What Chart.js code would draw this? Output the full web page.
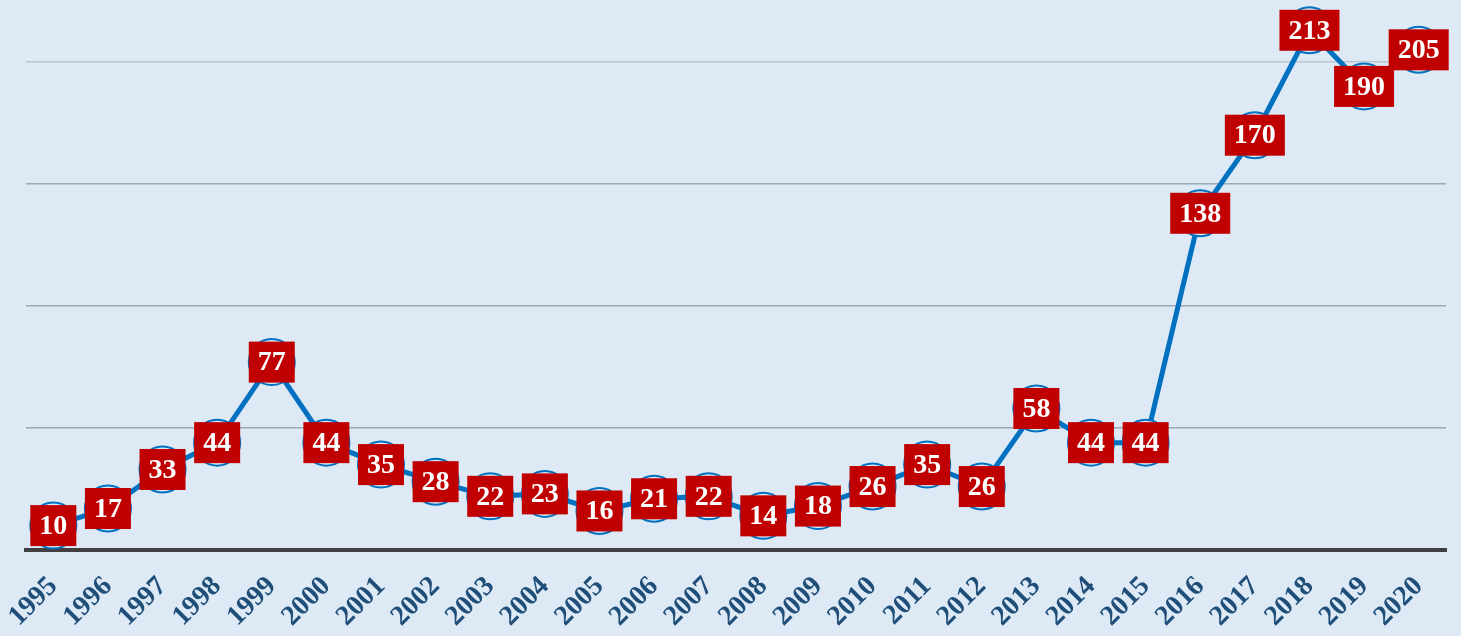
<!DOCTYPE html>
<html>
<head>
<meta charset="utf-8">
<script src="https://cdn.jsdelivr.net/npm/chart.js@4/dist/chart.umd.min.js"></script>
<style>
    html, body { margin: 0; padding: 0; background: #dde9f5; }
    #wrap { width: 1461px; height: 636px; }
</style>
</head>
<body>
<div id="wrap"><canvas id="chart"></canvas></div>
<script>
// Data
const years = ['1995', '1996', '1997', '1998', '1999', '2000', '2001', '2002', '2003', '2004',
    '2005', '2006', '2007', '2008', '2009', '2010', '2011', '2012', '2013', '2014',
    '2015', '2016', '2017', '2018', '2019', '2020'];
const counts = [10, 17, 33, 44, 77, 44, 35, 28, 22, 23, 16, 21, 22, 14, 18, 26, 35, 26, 58, 44,
    44, 138, 170, 213, 190, 205];
const gridValues = [0, 50, 100, 150, 200];

const bg = '#dde9f5';

// Red value boxes on top of each point
const valueBoxes = {
    id: 'valueBoxes',
    afterDatasetsDraw(chart) {
        const ctx = chart.ctx;
        const meta = chart.getDatasetMeta(0);
        ctx.save();
        ctx.font = 'bold 28px "Liberation Serif", "Times New Roman", serif';
        ctx.textAlign = 'center';
        ctx.textBaseline = 'middle';
        meta.data.forEach((pt, i) => {
            const txt = String(counts[i]);
            const w = ctx.measureText(txt).width + 18;
            const h = 41;
            ctx.fillStyle = '#c00000';
            ctx.fillRect(pt.x - w / 2, pt.y - h / 2, w, h);
            ctx.fillStyle = '#ffffff';
            ctx.fillText(txt, pt.x, pt.y + 1);
        });
        ctx.restore();
    }
};

new Chart(document.getElementById('chart'), {
    type: 'line',
    data: {
        labels: years,
        datasets: [{
            data: counts,
            borderColor: '#0070c0',
            borderWidth: 5,
            tension: 0,
            pointRadius: 23,
            pointHoverRadius: 23,
            pointBorderWidth: 2,
            pointBorderColor: '#0070c0',
            pointBackgroundColor: bg
        }]
    },
    options: {
        responsive: true,
        maintainAspectRatio: false,
        animation: false,
        layout: { autoPadding: false, padding: { left: 26, right: 15, top: 1, bottom: 0 } },
        plugins: {
            legend: { display: false },
            tooltip: { enabled: false }
        },
        scales: {
            x: {
                offset: true,
                afterFit(scale) {
                    scale.height = 86;
                    scale.paddingLeft = 0;
                    scale.paddingRight = 0;
                },
                grid: { display: false, drawTicks: false },
                border: { display: true, color: '#404040', width: 4 },
                ticks: {
                    color: '#1f4e79',
                    minRotation: 45,
                    maxRotation: 45,
                    padding: 20,
                    font: { family: '"Liberation Serif", "Times New Roman", serif', size: 28, weight: 'bold' }
                }
            },
            y: {
                min: 0,
                max: 225,
                afterBuildTicks(axis) {
                    axis.ticks = gridValues.map(v => ({ value: v }));
                },
                ticks: { display: false },
                grid: {
                    color: (c) => (c.tick && c.tick.value === 200 ? '#b9c5cf' : '#9ca8b4'),
                    lineWidth: 1.5,
                    drawTicks: false
                },
                border: { display: false }
            }
        }
    },
    plugins: [valueBoxes]
});
</script>
</body>
</html>
